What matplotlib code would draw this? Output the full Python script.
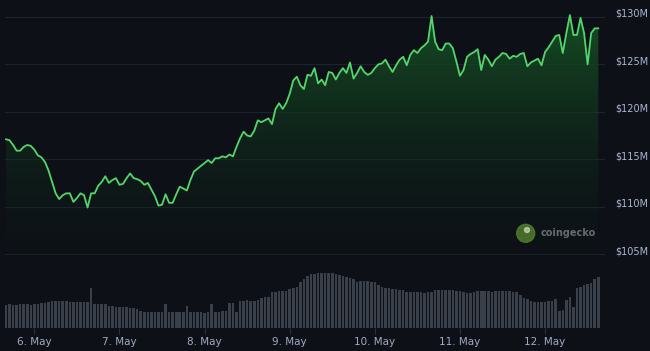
import numpy as np
import pandas as pd
import matplotlib
matplotlib.use('Agg')
import matplotlib.pyplot as plt
import matplotlib.dates as mdates
from matplotlib import transforms
from matplotlib.patches import Ellipse
from matplotlib.colors import LinearSegmentedColormap

# hourly market cap, $M (5 May 16:00 -> 12 May 15:00)
price = [
    117.1, 117.0, 116.5, 115.9, 115.9, 116.3, 116.5, 116.4, 116.0, 115.4,
    115.2, 114.7, 113.8, 112.6, 111.4, 110.8, 111.2, 111.4, 111.4, 110.5,
    110.9, 111.4, 111.2, 109.9, 111.4, 111.4, 112.2, 112.6,
    113.2, 112.5, 112.8, 113.0, 112.3, 112.4, 113.0, 113.5, 113.0, 112.9,
    112.7, 112.3, 112.5, 111.8, 111.1, 110.1, 110.2, 111.3, 110.4, 110.4,
    111.3, 112.1, 111.9, 111.7, 112.8, 113.7, 114.0,
    114.3, 114.6, 114.9, 114.6, 115.1, 115.1, 115.3, 115.2, 115.5, 115.3,
    116.3, 117.2, 117.9, 117.5, 117.4, 118.0, 119.1, 118.9, 119.1, 119.3,
    118.7, 120.3, 120.9, 120.3, 120.9, 121.9, 123.3, 123.7,
    122.8, 122.4, 123.9, 123.8, 124.6, 123.0, 123.4, 122.8, 124.2, 124.1,
    123.4, 124.1, 124.6, 124.1, 125.2, 123.5, 124.1, 124.8, 124.2, 123.9,
    124.1, 124.6, 125.0, 125.1, 125.5, 124.8, 124.2, 124.9, 125.5,
    125.8, 124.9, 126.0, 126.5, 126.2, 126.7, 127.0, 127.4, 130.1, 127.4,
    126.6, 126.5, 127.2, 127.2, 126.7, 125.3, 123.8, 124.4, 125.8, 126.1,
    126.3, 126.6, 124.4, 126.0, 125.5, 124.8, 125.5, 125.8,
    126.2, 126.1, 125.6, 125.9, 125.8, 126.1, 126.2, 124.8, 125.2, 125.4,
    125.6, 124.9, 126.3, 126.8, 127.4, 128.0, 128.1, 126.2, 128.3, 130.2,
    128.1, 128.1, 129.9, 128.3, 125.0, 128.3, 128.8, 128.8,
]

# hourly volume (relative units)
volume = [
    23, 24, 23, 23, 24, 24, 24, 23, 24, 24, 25, 25,
    26, 27, 27, 27, 27, 27, 26, 26, 26, 26, 26,
    26, 40, 24, 24, 24, 24,
    22, 22, 21, 21, 21, 21, 20, 20, 19,
    17, 16, 16, 16, 16, 16, 16, 24,
    16, 16, 16, 16, 16, 22,
    16, 16, 16, 16, 15, 16, 24,
    16, 16, 17, 17, 25, 25, 16,
    27, 27, 28, 27, 27, 28,
    30, 31, 31, 36, 36, 37, 37, 37, 39, 40, 41, 46, 49, 52,
    54, 54, 55, 55, 55, 55, 55, 54,
    53, 52, 51, 50, 49, 46,
    47, 47, 47, 46, 46, 43, 41, 40,
    40, 39, 39, 38, 38,
    36, 36, 36, 36, 36, 35, 36, 36,
    38, 38, 38, 38, 38, 38, 37,
    37, 36, 35, 35, 36, 37,
    37, 37, 37, 36, 37, 37, 37, 37, 37, 36, 36,
    33, 30, 29, 27, 26, 26, 26, 26, 27, 27, 29,
    17, 18, 28, 31, 21,
    40, 41, 43, 44, 45, 49, 51,
]

y_ticks = [105, 110, 115, 120, 125, 130]

times = pd.date_range('2024-05-05 16:00', periods=len(price), freq='h')
t = mdates.date2num(times)
hr = 1 / 24

bg = '#0d1117'
green = '#52d66c'

fig = plt.figure(figsize=(6.5, 3.51), dpi=100, facecolor=bg)
ax = fig.add_axes([5 / 650, (351 - 258) / 351, 600 / 650, 258 / 351])
vax = fig.add_axes([5 / 650, (351 - 327.5) / 351, 600 / 650, 65.5 / 351])

xlim = (t[0] - 0.28 * hr, t[0] + 168.9 * hr)
ylim = (104.58, 131.79)

for a in (ax, vax):
    a.set_facecolor('none')
    a.set_xlim(*xlim)
    for s in a.spines.values():
        s.set_visible(False)

# price line with gradient fill
ax.set_ylim(*ylim)
for v in y_ticks:
    ax.axhline(v, color='#1d232c', lw=0.8, zorder=0)
ax.plot(t, price, color=green, lw=1.3, zorder=3, solid_joinstyle='round')
poly = ax.fill_between(t, price, ylim[0], color='none', lw=0)
cmap = LinearSegmentedColormap.from_list('g', [(0.05, 0.12, 0.08, 0.0), (0.09, 0.32, 0.15, 1.0)])
grad = np.linspace(0, 1, 256).reshape(-1, 1)
img = ax.imshow(grad, cmap=cmap, aspect='auto', origin='lower',
                extent=[xlim[0], xlim[1], ylim[0], 131.0], zorder=1)
img.set_clip_path(poly.get_paths()[0], transform=ax.transData)
ax.set_ylim(*ylim)
ax.set_xlim(*xlim)

ax.set_xticks([])
ax.yaxis.tick_right()
ax.set_yticks(y_ticks)
ax.set_yticklabels([f'${v}M' for v in y_ticks])
ax.tick_params(axis='y', length=0, pad=7.5, labelsize=7, labelcolor='#aab6cf')
off = transforms.ScaledTranslation(0, 4 / 100, fig.dpi_scale_trans)
for lab in ax.get_yticklabels():
    lab.set_transform(lab.get_transform() + off)

# volume bars
vax.bar(t, volume, width=0.72 * hr, color='#39404a', lw=0)
vax.set_ylim(0, 65.5)
vax.set_yticks([])
vax.xaxis.set_major_locator(mdates.DayLocator())
vax.xaxis.set_major_formatter(
    matplotlib.ticker.FuncFormatter(lambda x, pos: f'{mdates.num2date(x).day}. May'))
vax.tick_params(axis='x', length=4, width=0.8, color='#2a313b', pad=3,
                labelsize=7.5, labelcolor='#9fabc2')

# coingecko watermark
fig.patches.append(Ellipse((525.7 / 650, 1 - 233.3 / 351), 18 / 650, 18 / 351,
                           transform=fig.transFigure, color='#55812f', alpha=0.8))
fig.patches.append(Ellipse((527 / 650, 1 - 230 / 351), 5 / 650, 5 / 351,
                           transform=fig.transFigure, color='#dfe8d0', alpha=0.6))
fig.text(540.5 / 650, 1 - 233 / 351, 'coingecko', color='#666b73', fontsize=7,
         fontweight='bold', va='center', ha='left')

fig.savefig('out.png', dpi=100, facecolor=bg)
